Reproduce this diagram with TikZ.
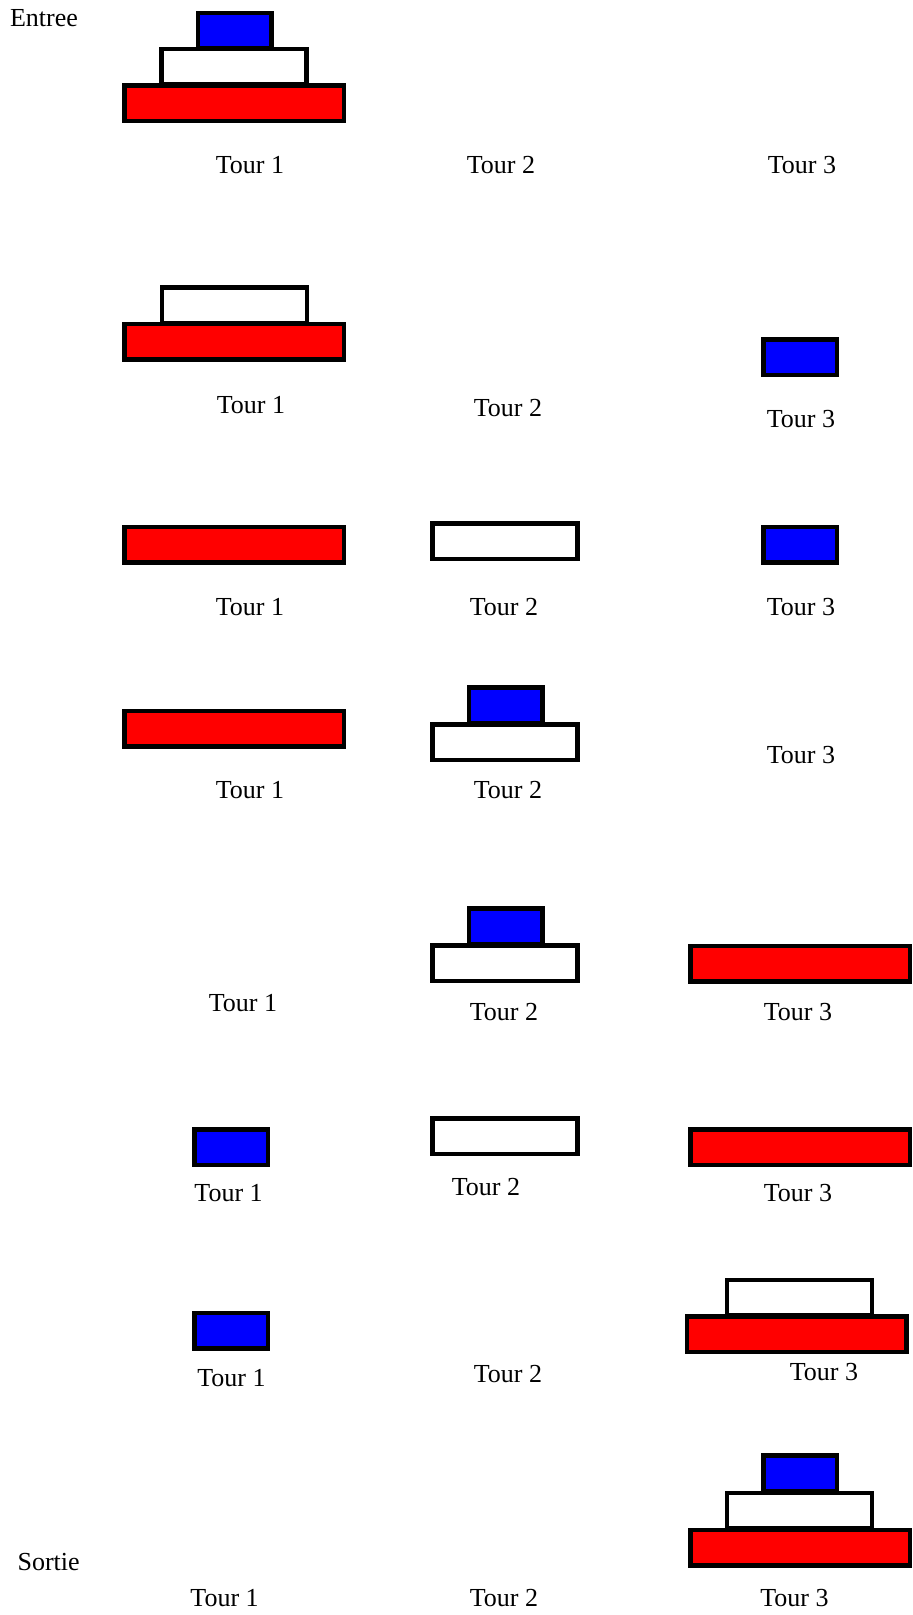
\documentclass[tikz,border=0pt]{standalone}
\usepackage{fontspec}
\setmainfont{Liberation Serif}
\usepackage{tikz}
\usepackage{xcolor}

\begin{document}
\begin{tikzpicture}[x=1pt, y=-1pt,
    bigdisk/.style={draw, rectangle, fill=red, line width=4.5pt, minimum width=219.5pt, minimum height=35.5pt, inner sep=0pt},
    middisk/.style={draw, rectangle, fill=white, line width=4.5pt, minimum width=145pt, minimum height=35.5pt, inner sep=0pt},
    smalldisk/.style={draw, rectangle, fill=blue, line width=4.5pt, minimum width=73.5pt, minimum height=35.5pt, inner sep=0pt},
    tour/.style={anchor=base, inner sep=0pt, font=\fontsize{26}{30}\selectfont}]
    \useasboundingbox (0, 0) rectangle (913, 1615);

    % Etape 1 : tout sur la tour 1
    \node[tour] (entree) at (44, 26.7) {Entree};
    \node[bigdisk] (r1big) at (234.2, 103.2) {};
    \node[middisk] (r1mid) at (234.2, 66.9) {};
    \node[smalldisk] (r1small) at (234.5, 30.8) {};
    \node[tour] (r1t1) at (250, 173.3) {Tour 1};
    \node[tour] (r1t2) at (501, 173.3) {Tour 2};
    \node[tour] (r1t3) at (802, 173.3) {Tour 3};

    % Etape 2
    \node[bigdisk] (r2big) at (234.4, 341.5) {};
    \node[middisk] (r2mid) at (234.5, 305) {};
    \node[smalldisk] (r2small) at (800, 357) {};
    \node[tour] (r2t1) at (251, 413.3) {Tour 1};
    \node[tour] (r2t2) at (508, 416.7) {Tour 2};
    \node[tour] (r2t3) at (801, 427) {Tour 3};

    % Etape 3
    \node[bigdisk] (r3big) at (234.4, 544.7) {};
    \node[middisk] (r3mid) at (505, 541) {};
    \node[smalldisk] (r3small) at (800, 544.7) {};
    \node[tour] (r3t1) at (250, 615) {Tour 1};
    \node[tour] (r3t2) at (504, 615) {Tour 2};
    \node[tour] (r3t3) at (801, 615) {Tour 3};

    % Etape 4
    \node[bigdisk] (r4big) at (234.4, 728.7) {};
    \node[middisk] (r4mid) at (505, 742) {};
    \node[smalldisk] (r4small) at (505.5, 705) {};
    \node[tour] (r4t1) at (250, 798.3) {Tour 1};
    \node[tour] (r4t2) at (508, 798.3) {Tour 2};
    \node[tour] (r4t3) at (801, 763.3) {Tour 3};

    % Etape 5
    \node[middisk] (r5mid) at (505, 963) {};
    \node[smalldisk] (r5small) at (505.5, 926) {};
    \node[bigdisk] (r5big) at (800, 963.7) {};
    \node[tour] (r5t1) at (243, 1011.7) {Tour 1};
    \node[tour] (r5t2) at (504, 1020) {Tour 2};
    \node[tour] (r5t3) at (798, 1020) {Tour 3};

    % Etape 6
    \node[smalldisk] (r6small) at (231, 1147) {};
    \node[middisk] (r6mid) at (505, 1136) {};
    \node[bigdisk] (r6big) at (800, 1147) {};
    \node[tour] (r6t1) at (228.6, 1201.7) {Tour 1};
    \node[tour] (r6t2) at (486, 1195) {Tour 2};
    \node[tour] (r6t3) at (798, 1201.7) {Tour 3};

    % Etape 7
    \node[smalldisk] (r7small) at (231, 1330.5) {};
    \node[bigdisk] (r7big) at (796.5, 1334) {};
    \node[middisk] (r7mid) at (799.6, 1297.5) {};
    \node[tour] (r7t1) at (231.5, 1386.7) {Tour 1};
    \node[tour] (r7t2) at (508, 1382.7) {Tour 2};
    \node[tour] (r7t3) at (824, 1380) {Tour 3};

    % Etape 8 : tout sur la tour 3
    \node[tour] (sortie) at (48.6, 1570) {Sortie};
    \node[bigdisk] (r8big) at (800, 1547.5) {};
    \node[middisk] (r8mid) at (799.6, 1510.5) {};
    \node[smalldisk] (r8small) at (800, 1473) {};
    \node[tour] (r8t1) at (224.6, 1606.7) {Tour 1};
    \node[tour] (r8t2) at (504, 1606.7) {Tour 2};
    \node[tour] (r8t3) at (794.4, 1606.7) {Tour 3};
\end{tikzpicture}
\end{document}
